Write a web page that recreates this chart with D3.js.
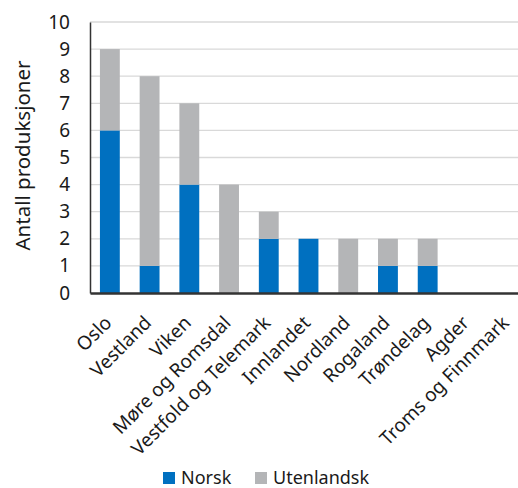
<!DOCTYPE html>
<html>
<head>
<meta charset="utf-8">
<script src="https://cdn.jsdelivr.net/npm/d3@7"></script>
<style>
  body { margin: 0; background: #fff; }
  text { font-family: "Noto Sans", sans-serif; fill: #1a1a1a; }
</style>
</head>
<body>
<div id="chart"></div>
<script>
const regions = ['Oslo', 'Vestland', 'Viken', 'Møre og Romsdal', 'Vestfold og Telemark',
  'Innlandet', 'Nordland', 'Rogaland', 'Trøndelag', 'Agder', 'Troms og Finnmark'];
const norsk = [6, 1, 4, 0, 2, 2, 0, 1, 1, 0, 0];
const utenlandsk = [3, 7, 3, 4, 1, 0, 2, 1, 1, 0, 0];
const seriesNames = ['Norsk', 'Utenlandsk'];
const colors = ['#0070c0', '#b4b5b7'];
const yTicks = [0, 1, 2, 3, 4, 5, 6, 7, 8, 9, 10];

const marginLeft = 90,
    marginTop = 22,
    width = 437,
    height = 271;

const svg = d3.select('#chart')
  .append('svg')
  .attr('width', 518)
  .attr('height', 488);

const data = regions.map(function(r, i) {
  return { name: r, Norsk: norsk[i], Utenlandsk: utenlandsk[i] };
});
const stacked = d3.stack().keys(seriesNames)(data);

const x = d3.scaleBand().domain(regions).range([0, width]).paddingInner(0.5).paddingOuter(0.25),
    y = d3.scaleLinear().domain([0, 10]).range([height, 0]);

const g = svg.append('g')
  .attr('transform', 'translate(' + marginLeft + ',' + marginTop + ')');

// gridlines
g.selectAll('.grid')
  .data(yTicks.filter(function(d) { return d > 0; }))
  .enter().append('line')
  .attr('x1', 0).attr('x2', width)
  .attr('y1', function(d) { return y(d); })
  .attr('y2', function(d) { return y(d); })
  .attr('stroke', '#d9d9d9')
  .attr('stroke-width', 1.3);

// bars
g.selectAll('.series')
  .data(stacked)
  .enter().append('g')
  .attr('fill', function(d, i) { return colors[i]; })
  .selectAll('rect')
  .data(function(d) { return d; })
  .enter().append('rect')
  .attr('x', function(d) { return x(d.data.name); })
  .attr('y', function(d) { return y(d[1]); })
  .attr('width', x.bandwidth())
  .attr('height', function(d) { return y(d[0]) - y(d[1]); });

// y axis
const yAxis = g.append('g')
  .call(d3.axisLeft(y).tickValues(yTicks).tickSize(0).tickPadding(20));
yAxis.select('.domain').attr('stroke', '#333').attr('stroke-width', 1.5);
yAxis.selectAll('text')
  .style('font-family', '"Noto Sans", sans-serif')
  .style('font-size', '19px')
  .attr('fill', '#1a1a1a');

// x axis
const xAxis = g.append('g')
  .attr('transform', 'translate(0,' + height + ')')
  .call(d3.axisBottom(x).tickSize(0).tickPadding(0));
xAxis.select('.domain').attr('stroke', '#333').attr('stroke-width', 2.5);
xAxis.selectAll('text')
  .style('font-family', '"Noto Sans", sans-serif')
  .style('font-size', '19px')
  .attr('fill', '#1a1a1a')
  .attr('text-anchor', 'end')
  .attr('dy', '0')
  .attr('transform', 'translate(3,31) rotate(-45)');

// y title
svg.append('text')
  .attr('transform', 'translate(30,' + (marginTop + height / 2 - 2) + ') rotate(-90)')
  .attr('text-anchor', 'middle')
  .style('font-size', '20.5px')
  .text('Antall produksjoner');

// legend
const legend = svg.append('g').attr('transform', 'translate(163,472)');
const items = legend.selectAll('g')
  .data(seriesNames)
  .enter().append('g')
  .attr('transform', function(d, i) { return 'translate(' + (i * 92) + ',0)'; });
items.append('rect')
  .attr('width', 12).attr('height', 12)
  .attr('fill', function(d, i) { return colors[i]; });
items.append('text')
  .attr('x', 18).attr('y', 12)
  .style('font-size', '18px')
  .text(function(d) { return d; });
</script>
</body>
</html>
